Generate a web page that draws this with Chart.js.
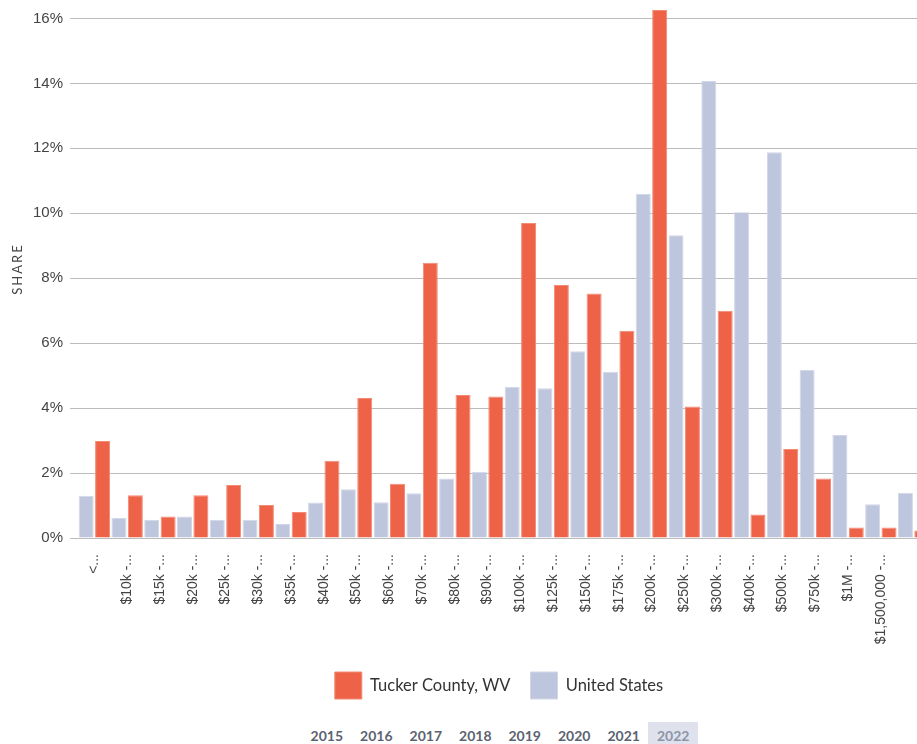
<!DOCTYPE html>
<html>
<head>
<meta charset="utf-8">
<title>Property Value Distribution</title>
<script src="https://cdn.jsdelivr.net/npm/chart.js@4.4.1/dist/chart.umd.min.js"></script>
<style>
  html, body { margin: 0; padding: 0; background: #fff; overflow: hidden; }
  #wrap { width: 1000px; }
  #box { position: relative; width: 998px; height: 709px; }
  .years {
    display: flex; justify-content: center; margin-top: 13px; padding-left: 0;
    font-family: Lato, "Open Sans", sans-serif; font-weight: 700; font-size: 14px;
    line-height: 17px; color: #5b6370;
  }
  .years span { padding: 5px 8.5px; }
  .years span.on { background: #dfe2ec; color: #8c94a8; }
</style>
</head>
<body>
<div id="wrap">
  <div id="box"><canvas id="chart"></canvas></div>
  <div class="years" id="years"></div>
</div>
<script>
// Home value brackets (axis labels are shortened the way the widget shows them)
const categories = [
  "<...", "$10k -...", "$15k -...", "$20k -...", "$25k -...", "$30k -...",
  "$35k -...", "$40k -...", "$50k -...", "$60k -...", "$70k -...", "$80k -...",
  "$90k -...", "$100k -...", "$125k -...", "$150k -...", "$175k -...",
  "$200k -...", "$250k -...", "$300k -...", "$400k -...", "$500k -...",
  "$750k -...", "$1M -...", "$1,500,000 -...", ""
];

// Share of owner-occupied homes in each bracket, percent
const tuckerShare = [
  2.99, 1.32, 0.66, 1.32, 1.63, 1.02, 0.80, 2.38, 4.31, 1.67, 8.48, 4.40, 4.36,
  9.70, 7.79, 7.53, 6.38, 16.26, 4.05, 7.00, 0.72, 2.74, 1.83, 0.32, 0.32, 0.23
];
const usShare = [
  1.30, 0.62, 0.56, 0.66, 0.56, 0.56, 0.43, 1.09, 1.50, 1.10, 1.38, 1.83, 2.04,
  4.66, 4.61, 5.75, 5.12, 10.60, 9.32, 14.07, 10.03, 11.88, 5.18, 3.17, 1.04, 1.39
];

const yAxisTicks = [0, 2, 4, 6, 8, 10, 12, 14, 16];
const yearOptions = [2015, 2016, 2017, 2018, 2019, 2020, 2021, 2022];
const selectedYear = 2022;

// year switcher under the chart
const yearsEl = document.getElementById('years');
yearOptions.forEach(y => {
  const s = document.createElement('span');
  s.textContent = y;
  if (y === selectedYear) s.className = 'on';
  yearsEl.appendChild(s);
});

const sansFamily = '"Liberation Sans", Arial, sans-serif';

// rotated, letter-spaced axis title
const shareTitle = {
  id: 'shareTitle',
  afterDraw(chart) {
    const { ctx, chartArea } = chart;
    ctx.save();
    ctx.translate(18, (chartArea.top + chartArea.bottom) / 2 - 5);
    ctx.rotate(-Math.PI / 2);
    ctx.letterSpacing = '2px';
    ctx.font = '13px Lato, "Open Sans", sans-serif';
    ctx.fillStyle = '#444';
    ctx.textAlign = 'center';
    ctx.textBaseline = 'middle';
    ctx.fillText('SHARE', 0, 0);
    ctx.restore();
  }
};

new Chart(document.getElementById('chart'), {
  type: 'bar',
  data: {
    labels: categories,
    datasets: [
      {
        label: 'United States',
        data: usShare,
        backgroundColor: '#bec6dd',
        borderColor: '#d2d7e7',
        borderWidth: 1,
        categoryPercentage: 1.0,
        barPercentage: 0.915
      },
      {
        label: 'Tucker County, WV',
        data: tuckerShare,
        backgroundColor: '#ee6248',
        borderColor: '#f28a74',
        borderWidth: 1,
        categoryPercentage: 1.0,
        barPercentage: 0.915
      }
    ]
  },
  options: {
    responsive: true,
    maintainAspectRatio: false,
    animation: false,
    devicePixelRatio: 1,
    layout: { padding: { top: 10, right: 0, left: 0, bottom: 0 } },
    plugins: {
      tooltip: { enabled: false },
      legend: {
        position: 'bottom',
        reverse: true,
        labels: {
          boxWidth: 27,
          boxHeight: 27,
          padding: 20,
          color: '#333',
          font: { family: 'Lato, "Open Sans", sans-serif', size: 16.5 }
        }
      }
    },
    scales: {
      x: {
        grid: { display: false },
        border: { display: false },
        ticks: {
          autoSkip: false,
          minRotation: 90,
          maxRotation: 90,
          padding: 8,
          color: '#444',
          font: { family: sansFamily, size: 14 }
        },
        afterFit(scale) { scale.height = 114; }
      },
      y: {
        min: 0,
        max: Math.max(...tuckerShare, ...usShare),
        afterBuildTicks(scale) {
          scale.ticks = yAxisTicks.map(v => ({ value: v }));
        },
        ticks: {
          padding: 7,
          color: '#444',
          font: { family: sansFamily, size: 15 },
          callback: v => v + '%'
        },
        grid: { color: '#bcbcbc', lineWidth: 1, tickLength: 8, drawTicks: true },
        border: { display: false },
        afterFit(scale) {
          scale.width = 78;
          scale.paddingTop = 0;
          scale.paddingBottom = 0;
        }
      },
      // empty band on the right of the plot
      rightGap: {
        type: 'linear',
        position: 'right',
        grid: { display: false },
        border: { display: false },
        ticks: { display: false },
        afterFit(scale) {
          scale.width = 68;
          scale.paddingTop = 0;
          scale.paddingBottom = 0;
        }
      }
    }
  },
  plugins: [shareTitle]
});
</script>
</body>
</html>
